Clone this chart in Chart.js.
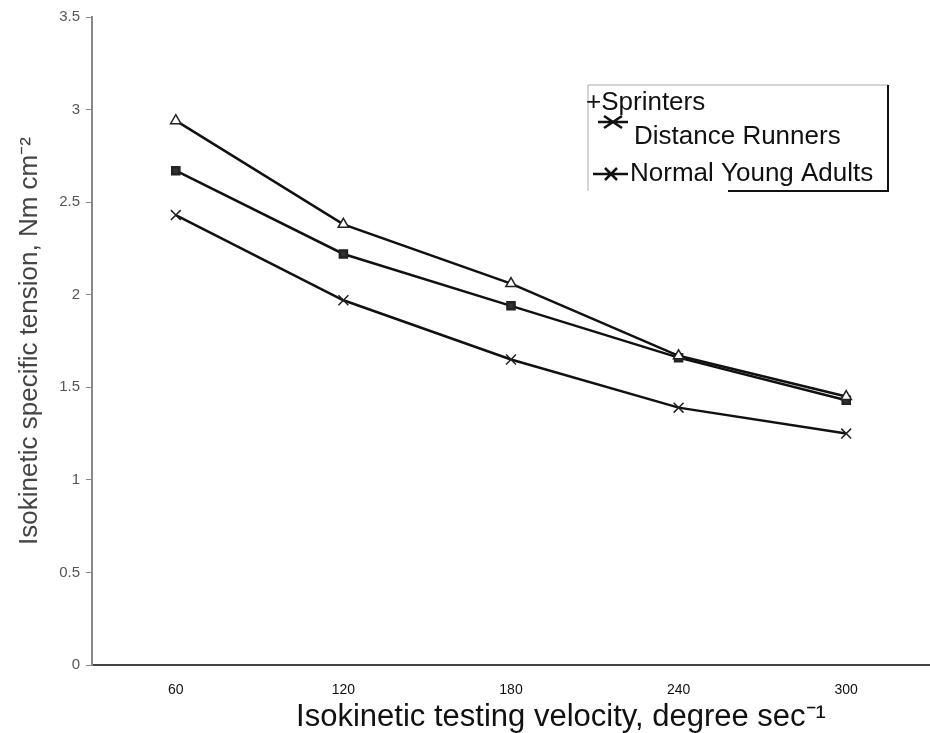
<!DOCTYPE html>
<html>
<head>
<meta charset="utf-8">
<script src="https://cdn.jsdelivr.net/npm/chart.js@4"></script>
<style>
  html, body { margin: 0; padding: 0; background: #fff; }
  #wrap { width: 930px; height: 733px; }
</style>
</head>
<body>
<div id="wrap"><canvas id="tension"></canvas></div>
<script>
// velocities (degree/sec) and specific tension (Nm cm^-2)
const velocities = ['60', '120', '180', '240', '300'];
const sprinters = [2.94, 2.38, 2.06, 1.67, 1.45];
const distanceRunners = [2.67, 2.22, 1.94, 1.66, 1.43];
const normalAdults = [2.43, 1.97, 1.65, 1.39, 1.25];
const seriesNames = ['Sprinters', 'Distance Runners', 'Normal Young Adults'];
const yTicks = [0, 0.5, 1, 1.5, 2, 2.5, 3, 3.5];
const xTitle = 'Isokinetic testing velocity, degree sec\u207B\u00B9';
const yTitle = 'Isokinetic specific tension, Nm cm\u207B\u00B2';

// legend box drawn inside the plot like the original figure, plus the x title
// which sits right of centre in the source figure
const boxLegend = {
  id: 'boxLegend',
  afterDraw(chart) {
    const ctx = chart.ctx;
    const x0 = 588, y0 = 85, w = 300, h = 106;
    ctx.save();
    ctx.fillStyle = '#fff';
    ctx.fillRect(x0, y0, w, h);
    ctx.strokeStyle = '#aaa';
    ctx.lineWidth = 1;
    ctx.beginPath();
    ctx.moveTo(x0, y0 + h); ctx.lineTo(x0, y0); ctx.lineTo(x0 + w, y0);
    ctx.stroke();
    ctx.strokeStyle = '#111';
    ctx.lineWidth = 2;
    ctx.beginPath();
    ctx.moveTo(x0 + w, y0); ctx.lineTo(x0 + w, y0 + h); ctx.lineTo(x0 + 140, y0 + h);
    ctx.stroke();

    const rows = [103, 137, 174];
    const textX = [598, 634, 630];
    ctx.font = '26px "Liberation Sans", Arial, sans-serif';
    ctx.textBaseline = 'middle';
    ctx.fillStyle = '#111';
    chart.data.datasets.forEach((ds, i) => {
      const y = rows[i];
      if (i === 0) {
        ctx.fillText('+' + ds.label, 586, y);
        return;
      }
      ctx.strokeStyle = '#111';
      ctx.lineWidth = 2.5;
      ctx.beginPath();
      if (i === 1) {
        ctx.moveTo(598, 122); ctx.lineTo(628, 122);
        ctx.moveTo(604, 116); ctx.lineTo(622, 128);
        ctx.moveTo(622, 116); ctx.lineTo(604, 128);
      } else {
        ctx.moveTo(593, y); ctx.lineTo(628, y);
        ctx.moveTo(605, y - 6); ctx.lineTo(617, y + 6);
        ctx.moveTo(617, y - 6); ctx.lineTo(605, y + 6);
      }
      ctx.stroke();
      ctx.fillText(ds.label, textX[i], y);
    });

    ctx.font = '31px "Liberation Sans", Arial, sans-serif';
    ctx.textAlign = 'center';
    ctx.textBaseline = 'alphabetic';
    ctx.fillText(xTitle, 561, 726);
    ctx.restore();
  }
};

const ctx = document.getElementById('tension').getContext('2d');
const tensionChart = new Chart(ctx, {
  type: 'line',
  data: {
    labels: velocities,
    datasets: [{
      label: seriesNames[0],
      data: sprinters,
      borderColor: '#111',
      backgroundColor: '#fff',
      borderWidth: 2.5,
      pointStyle: 'triangle',
      pointRadius: 6,
      pointBorderColor: '#222',
      pointBorderWidth: 1.5,
      tension: 0,
    }, {
      label: seriesNames[1],
      data: distanceRunners,
      borderColor: '#111',
      backgroundColor: '#333',
      borderWidth: 2.5,
      pointStyle: 'rect',
      pointRadius: 5,
      pointBorderColor: '#222',
      tension: 0,
    }, {
      label: seriesNames[2],
      data: normalAdults,
      borderColor: '#111',
      backgroundColor: '#111',
      borderWidth: 2.5,
      pointStyle: 'crossRot',
      pointRadius: 7,
      pointBorderColor: '#222',
      pointBorderWidth: 1.5,
      tension: 0,
    }]
  },
  options: {
    responsive: true,
    maintainAspectRatio: false,
    animation: false,
    layout: { autoPadding: false, padding: { top: 17, right: 0, left: 0, bottom: 0 } },
    plugins: {
      legend: { display: false },
      tooltip: { enabled: false },
    },
    scales: {
      x: {
        type: 'category',
        offset: true,
        grid: { display: false, drawTicks: false },
        border: { display: true, color: '#444', width: 2 },
        ticks: {
          color: '#111',
          padding: 17,
          font: { family: '"Liberation Sans", Arial, sans-serif', size: 14 },
        },
        title: { display: false },
        afterFit(scale) {
          scale.height = 68;
          scale.paddingRight = 0;
          scale.paddingLeft = 0;
        }
      },
      y: {
        min: 0,
        max: 3.5,
        afterBuildTicks(scale) { scale.ticks = yTicks.map(v => ({ value: v })); },
        grid: { drawOnChartArea: false, drawTicks: true, tickLength: 6, color: '#888' },
        border: { display: true, color: '#888', width: 2 },
        ticks: {
          color: '#555',
          padding: 6,
          font: { family: '"Liberation Sans", Arial, sans-serif', size: 15 },
          callback: v => String(v),
        },
        title: {
          display: true,
          text: yTitle,
          color: '#444',
          padding: { top: 14, bottom: 0 },
          font: { family: '"Liberation Sans", Arial, sans-serif', size: 26 },
        },
        afterFit(scale) { scale.width = 92; }
      }
    }
  },
  plugins: [boxLegend]
});
</script>
</body>
</html>
